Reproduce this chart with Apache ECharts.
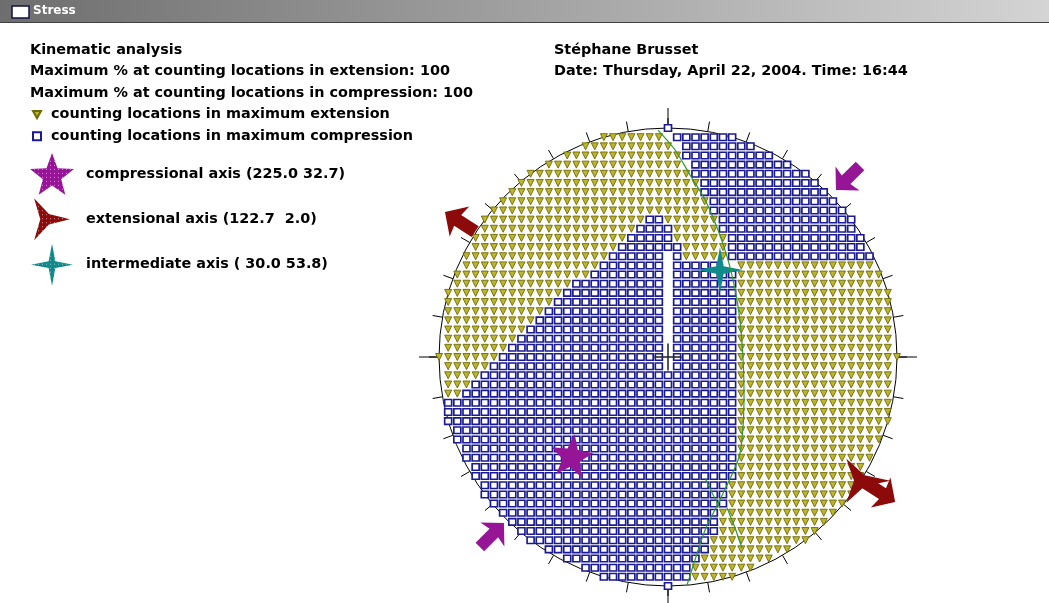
<!DOCTYPE html>
<html>
<head>
<meta charset="utf-8">
<script src="https://cdn.jsdelivr.net/npm/echarts@6/dist/echarts.min.js"></script>
<style>
  html, body { margin: 0; padding: 0; background: #fff; }
  #chart { width: 1049px; height: 603px; }
</style>
</head>
<body>
<div id="chart"></div>
<script>
// Stress - kinematic analysis stereonet

const headerLines = [
    'Kinematic analysis',
    'Maximum % at counting locations in extension: 100',
    'Maximum % at counting locations in compression: 100'
];
const authorLines = [
    'Stéphane Brusset',
    'Date: Thursday, April 22, 2004. Time: 16:44'
];
const pointNames = [
    'counting locations in maximum extension',
    'counting locations in maximum compression'
];
const axisNames = [
    'compressional axis (225.0 32.7)',
    'extensional axis (122.7  2.0)',
    'intermediate axis ( 30.0 53.8)'
];

// counting grid, one row per line from top (row -25) to bottom (row 25)
// t = max extension, s = max compression; "type:fromCol:toCol", L/R = circle edge
const gridRows = [
    's:0:0',
    't:L:-1 s:1:R',
    't:L:0 s:2:R',
    't:L:1 s:2:R',
    't:L:1 s:3:R',
    't:L:2 s:3:R',
    't:L:3 s:4:R',
    't:L:3 s:4:R',
    't:L:4 s:5:R',
    't:L:4 s:5:R',
    't:L:-3 s:-2:-1 t:0:5 s:6:R',
    't:L:-4 s:-3:0 t:1:5 s:6:R',
    't:L:-5 s:-4:0 t:1:6 s:7:R',
    't:L:-6 s:-5:1 t:2:6 s:7:R',
    't:L:-7 s:-6:-1 s:1:1 t:2:6 s:7:R',
    't:L:-8 s:-7:-1 s:1:5 t:8:R',
    't:L:-9 s:-8:-1 s:1:7 t:8:R',
    't:L:-11 s:-10:-1 s:1:7 t:8:R',
    't:L:-12 s:-11:-1 s:1:7 t:8:R',
    't:L:-13 s:-12:-1 s:1:7 t:8:R',
    't:L:-14 s:-13:-1 s:1:7 t:8:R',
    't:L:-15 s:-14:-1 s:1:7 t:8:R',
    't:L:-16 s:-15:-1 s:1:7 t:8:R',
    't:L:-17 s:-16:-1 s:1:7 t:8:R',
    't:L:-18 s:-17:-1 s:1:7 t:8:R',
    't:L:-19 s:-18:-1 s:1:7 t:8:R',
    't:L:-20 s:-19:-1 s:1:7 t:8:R',
    't:L:-21 s:-20:7 t:8:R',
    't:L:-22 s:-21:7 t:8:R',
    't:L:-23 s:-22:7 t:8:R',
    's:L:7 t:8:R',
    's:L:7 t:8:R',
    's:L:7 t:8:R',
    's:L:7 t:8:R',
    's:L:7 t:8:R',
    's:L:7 t:8:R',
    's:L:7 t:8:R',
    's:L:7 t:8:R',
    's:L:7 t:8:R',
    's:L:6 t:7:R',
    's:L:6 t:7:R',
    's:L:6 t:7:R',
    's:L:5 t:6:R',
    's:L:5 t:6:R',
    's:L:5 t:6:R',
    's:L:4 t:5:R',
    's:L:4 t:5:R',
    's:L:3 t:4:R',
    's:L:2 t:3:R',
    's:L:2 t:3:R',
    's:0:0'
];

// nodal plane trace and small marks (unit circle coords)
const nodalPlane = [
    [-0.044, 0.991], [0.031, 0.904], [0.096, 0.795], [0.162, 0.686], [0.218, 0.555],
    [0.262, 0.424], [0.293, 0.293], [0.314, 0.162], [0.328, -0.013], [0.332, -0.188],
    [0.323, -0.362], [0.306, -0.450], [0.227, -0.624], [0.162, -0.755], [0.118, -0.886],
    [0.083, -0.996]
];
const nodalMarkA = [[0.162, -0.528], [0.197, -0.603], [0.227, -0.659]];
const nodalMarkB = [[0.258, -0.659], [0.293, -0.747], [0.323, -0.834]];

// principal axes as plotted
const compAxis = [[-0.42, -0.428]];
const extAxis = [[0.875, -0.54]];
const interAxis = [[0.227, 0.38]];
// shortening / stretching arrows: [x, y, rotation]
const compArrows = [[0.786, 0.782, 135], [-0.769, -0.777, -45]];
const extArrows = [[-0.908, 0.590, 57], [0.926, -0.590, -123]];

const N = 25;
const cx = 668, cy = 357, R = 229;

function cellsOf(type) {
    const out = [];
    gridRows.forEach((row, k) => {
        const j = k - N;
        const h = Math.floor(Math.sqrt(N * N - j * j) + 1e-9);
        row.split(' ').forEach(seg => {
            const [t, a, b] = seg.split(':');
            if (t !== type) return;
            const from = a === 'L' ? -h : +a;
            const to = b === 'R' ? h : +b;
            for (let i = from; i <= to; i++) out.push([i / N, -j / N]);
        });
    });
    return out;
}

const triPath = 'path://M0,0 L10,0 L5,9 Z';
const star5 = 'path://M50,0 L62,33 L98,35 L70,57 L79,91 L50,71 L21,91 L30,57 L2,35 L38,33 Z';
const star3 = 'path://M100,50 L56,61 L25,94 L38,50 L25,6 L56,39 Z';
const star4 = 'path://M50,0 L58,42 L100,50 L58,58 L50,100 L42,58 L0,50 L42,42 Z';
const arrowPath = 'path://M50,0 L95,48 L66,42 L66,100 L34,100 L34,42 L5,48 Z';

const FONT = 'DejaVu Sans';
const txt = { fontFamily: FONT, fontWeight: 'bold', fontSize: 14.4, color: '#000' };
const dots = {
    symbol: 'rect', symbolSize: 1, color: 'rgba(255,255,255,0.55)', backgroundColor: null,
    dashArrayX: [1, 3], dashArrayY: [1, 3], rotation: 0
};

document.addEventListener('DOMContentLoaded', () => {
    const chart = echarts.init(document.querySelector('#chart'), null, { renderer: 'canvas' });
    chart.setOption({
        backgroundColor: '#fff',
        animation: false,
        title: [
            { text: headerLines.join('\n'), left: 30, top: 39, padding: 0,
              textStyle: Object.assign({ lineHeight: 21.7 }, txt) },
            { text: authorLines.join('\n'), left: 554, top: 39, padding: 0,
              textStyle: Object.assign({ lineHeight: 21.7 }, txt) }
        ],
        legend: [
            {
                data: pointNames, orient: 'vertical', left: 32, top: 106, padding: 0,
                itemWidth: 8, itemHeight: 8, itemGap: 4.7, selectedMode: false,
                textStyle: Object.assign({ lineHeight: 17, padding: [0, 0, 0, 5] }, txt)
            },
            {
                data: axisNames, orient: 'vertical', left: 30, top: 153, padding: 0,
                itemWidth: 44, itemHeight: 42, itemGap: 3.5, selectedMode: false,
                textStyle: Object.assign({ padding: [0, 0, 0, 7] }, txt)
            }
        ],
        grid: { left: cx - R, top: cy - R, width: 2 * R, height: 2 * R },
        xAxis: { type: 'value', min: -1, max: 1, show: false },
        yAxis: { type: 'value', min: -1, max: 1, show: false },
        polar: [
            { center: [cx, cy], radius: R },
            { center: [cx, cy], radius: R }
        ],
        angleAxis: [
            {
                polarIndex: 0, type: 'value', min: 0, max: 360, interval: 10, startAngle: 90,
                clockwise: true,
                axisLine: { lineStyle: { color: '#000', width: 1 } },
                axisTick: { show: true, length: 10, lineStyle: { color: '#000', width: 1 } },
                axisLabel: { show: false }, splitLine: { show: false }
            },
            {
                polarIndex: 1, type: 'value', min: 0, max: 360, interval: 90, startAngle: 90,
                clockwise: true,
                axisLine: { show: false },
                axisTick: { show: true, length: 20, lineStyle: { color: '#000', width: 1 } },
                axisLabel: { show: false }, splitLine: { show: false }
            }
        ],
        radiusAxis: [
            { polarIndex: 0, min: 0, max: 1, show: false },
            { polarIndex: 1, min: 0, max: 1, show: false }
        ],
        graphic: [
            {
                type: 'rect', shape: { x: 0, y: 0, width: 1049, height: 22 },
                style: { fill: new echarts.graphic.LinearGradient(0, 0, 1, 0, [
                    { offset: 0, color: '#6e6e6e' }, { offset: 1, color: '#d4d4d4' }]) }
            },
            { type: 'rect', shape: { x: 0, y: 22, width: 1049, height: 1 }, style: { fill: '#404040' } },
            { type: 'rect', shape: { x: 12, y: 6, width: 17, height: 12 },
              style: { fill: '#ffffff', stroke: '#10104a', lineWidth: 1.5 } },
            { type: 'text', x: 33, y: 11,
              style: { text: 'Stress', fill: '#ffffff', font: 'bold 12px "DejaVu Sans"', verticalAlign: 'middle' } }
        ],
        series: [
            {
                name: pointNames[0], type: 'scatter', data: cellsOf('t'),
                symbol: triPath, symbolSize: [7, 7], clip: false,
                itemStyle: { color: '#bdb52c', borderColor: '#6e6a04', borderWidth: 0.9, opacity: 1 }
            },
            {
                name: pointNames[1], type: 'scatter', data: cellsOf('s'),
                symbol: 'rect', symbolSize: [7, 6.5], clip: false,
                itemStyle: { color: '#ffffff', borderColor: '#1a1a94', borderWidth: 1.6, opacity: 1 }
            },
            {
                type: 'scatter', data: [[0, 0]], symbol: 'path://M0,5 L10,5 M5,0 L5,10',
                symbolSize: 27,
                itemStyle: { color: 'none', borderColor: '#222', borderWidth: 1.5, opacity: 1 }
            },
            {
                type: 'line', data: nodalPlane, showSymbol: false, smooth: 0.3,
                lineStyle: { color: '#2f9a2f', width: 1.2 }
            },
            {
                type: 'line', data: nodalMarkA, showSymbol: false,
                lineStyle: { color: '#2f9a2f', width: 1.2 }
            },
            {
                type: 'line', data: nodalMarkB, showSymbol: false,
                lineStyle: { color: '#2f9a2f', width: 1.2 }
            },
            {
                name: axisNames[0], type: 'scatter', data: compAxis, symbol: star5,
                symbolSize: 42, symbolRotate: -8, clip: false,
                itemStyle: { color: '#961496', opacity: 1, decal: dots }
            },
            {
                name: axisNames[1], type: 'scatter', data: extAxis, symbol: star3,
                symbolSize: 44, clip: false,
                itemStyle: { color: '#8c0a0a', opacity: 1, decal: dots }
            },
            {
                name: axisNames[2], type: 'scatter', data: interAxis, symbol: star4,
                symbolSize: 46, clip: false,
                itemStyle: { color: '#0f8a8a', opacity: 1, decal: dots }
            },
            {
                type: 'scatter', data: compArrows, symbol: arrowPath, symbolSize: 34, clip: false,
                symbolRotate: v => v[2],
                itemStyle: { color: '#961496', opacity: 1, decal: dots }
            },
            {
                type: 'scatter', data: extArrows, symbol: arrowPath, symbolSize: 36, clip: false,
                symbolRotate: v => v[2],
                itemStyle: { color: '#8c0a0a', opacity: 1, decal: dots }
            },
            { type: 'scatter', coordinateSystem: 'polar', polarIndex: 0, data: [] },
            { type: 'scatter', coordinateSystem: 'polar', polarIndex: 1, data: [] }
        ]
    });
});
</script>
</body>
</html>
